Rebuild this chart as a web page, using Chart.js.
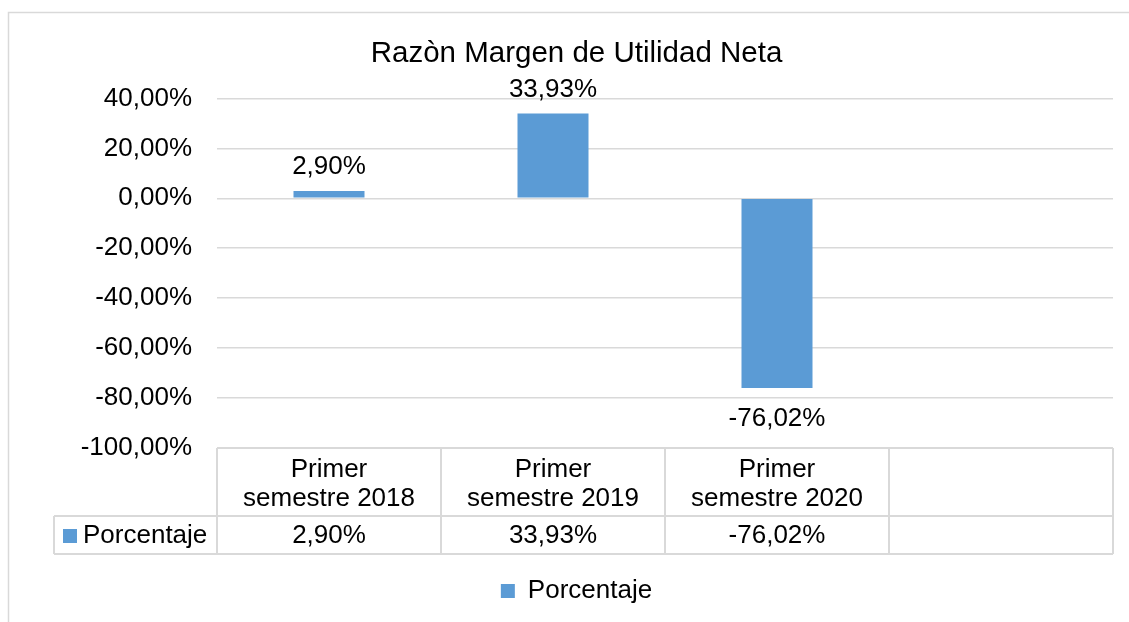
<!DOCTYPE html>
<html>
<head>
<meta charset="utf-8">
<title>Razòn Margen de Utilidad Neta</title>
<script src="https://cdn.jsdelivr.net/npm/chart.js@4.4.1/dist/chart.umd.min.js"></script>
<style>
  html, body { margin: 0; padding: 0; background: #ffffff; }
  canvas { display: block; }
</style>
</head>
<body>
<canvas id="marginChart" width="1129" height="622"></canvas>
<script>
const chartTitle = "Razòn Margen de Utilidad Neta";
const seriesName = "Porcentaje";
const categories = [
  ["Primer", "semestre 2018"],
  ["Primer", "semestre 2019"],
  ["Primer", "semestre 2020"],
  ""
];
const percentages = [2.90, 33.93, -76.02, null];
const yTicks = [40, 20, 0, -20, -40, -60, -80, -100];

const barColor = "#5b9bd5";
const lineGray = "#d9d9d9";
const fontFamily = "'Liberation Sans', Arial, sans-serif";

function fmtPct(v) {
  return v.toFixed(2).replace(".", ",") + "%";
}

// thin frame on the left and top, like the pasted Excel chart
const framePlugin = {
  id: "frame",
  beforeDraw(chart) {
    const ctx = chart.ctx;
    ctx.save();
    ctx.strokeStyle = lineGray;
    ctx.lineWidth = 1.5;
    ctx.beginPath();
    ctx.moveTo(8.5, chart.height);
    ctx.lineTo(8.5, 12.5);
    ctx.lineTo(chart.width, 12.5);
    ctx.stroke();
    ctx.restore();
  }
};

const valueLabels = {
  id: "valueLabels",
  afterDatasetsDraw(chart) {
    const ctx = chart.ctx;
    const meta = chart.getDatasetMeta(0);
    ctx.save();
    ctx.font = "26px " + fontFamily;
    ctx.fillStyle = "#000";
    ctx.textAlign = "center";
    ctx.textBaseline = "middle";
    meta.data.forEach((bar, i) => {
      const v = percentages[i];
      if (v === null || v === undefined) return;
      const y = v >= 0 ? bar.y - 24 : bar.y + 31;
      ctx.fillText(fmtPct(v), bar.x, y);
    });
    ctx.restore();
  }
};

// Excel style data table under the plot
const dataTable = {
  id: "dataTable",
  afterDraw(chart) {
    const ctx = chart.ctx;
    const xScale = chart.scales.x;
    const area = chart.chartArea;
    const n = categories.length;
    const colW = (xScale.right - xScale.left) / n;
    const left = xScale.left;
    const right = xScale.right;
    const top = area.bottom;
    const headBottom = top + 68;
    const rowBottom = headBottom + 38;
    const keyLeft = 54;

    ctx.save();
    ctx.strokeStyle = lineGray;
    ctx.lineWidth = 2;
    ctx.beginPath();
    ctx.moveTo(left, top); ctx.lineTo(right, top);
    ctx.moveTo(keyLeft, headBottom); ctx.lineTo(right, headBottom);
    ctx.moveTo(keyLeft, rowBottom); ctx.lineTo(right, rowBottom);
    for (let i = 0; i <= n; i++) {
      const x = left + i * colW;
      ctx.moveTo(x, top); ctx.lineTo(x, rowBottom);
    }
    ctx.moveTo(keyLeft, headBottom); ctx.lineTo(keyLeft, rowBottom);
    ctx.stroke();

    ctx.font = "26px " + fontFamily;
    ctx.fillStyle = "#000";
    ctx.textBaseline = "middle";
    ctx.textAlign = "center";
    categories.forEach((cat, i) => {
      const cx = xScale.getPixelForValue(i);
      const lines = Array.isArray(cat) ? cat : [cat];
      lines.forEach((txt, j) => {
        ctx.fillText(txt, cx, top + 22 + j * 29);
      });
      const v = percentages[i];
      if (v !== null && v !== undefined) {
        ctx.fillText(fmtPct(v), cx, headBottom + 20);
      }
    });

    ctx.fillStyle = barColor;
    ctx.fillRect(63, headBottom + 13, 14, 14);
    ctx.fillStyle = "#000";
    ctx.textAlign = "left";
    ctx.fillText(seriesName, 83, headBottom + 20);
    ctx.restore();
  }
};

document.addEventListener("DOMContentLoaded", function () {
  const canvas = document.getElementById("marginChart");

  new Chart(canvas.getContext("2d"), {
    type: "bar",
    data: {
      labels: categories,
      datasets: [{
        label: seriesName,
        data: percentages,
        backgroundColor: barColor,
        borderWidth: 0,
        categoryPercentage: 1,
        barPercentage: 0.317,
      }],
    },
    options: {
      responsive: false,
      animation: false,
      layout: { padding: { left: 40, right: 16, top: 0, bottom: 8 } },
      plugins: {
        title: {
          display: true,
          text: chartTitle,
          color: "#000",
          font: { family: fontFamily, size: 29.5, weight: "normal" },
          padding: { top: 36, bottom: 27 },
        },
        legend: {
          display: true,
          position: "bottom",
          onClick: null,
          labels: {
            color: "#000",
            boxWidth: 14,
            boxHeight: 14,
            padding: 10,
            font: { family: fontFamily, size: 26 },
          },
        },
        tooltip: { enabled: false },
      },
      scales: {
        x: {
          display: true,
          grid: { display: false },
          border: { display: false },
          ticks: { display: false },
          afterFit(scale) { scale.height = 120; },
        },
        y: {
          min: -100,
          max: 40,
          afterFit(scale) { scale.width = 177; },
          afterBuildTicks(scale) {
            scale.ticks = yTicks.map((v) => ({ value: v }));
          },
          grid: { color: lineGray, lineWidth: 1.5, drawTicks: false },
          border: { display: false },
          ticks: {
            color: "#000",
            padding: 25,
            font: { family: fontFamily, size: 26 },
            callback: (v) => fmtPct(v),
          },
        },
      },
    },
    plugins: [framePlugin, valueLabels, dataTable],
  });
});
</script>
</body>
</html>
